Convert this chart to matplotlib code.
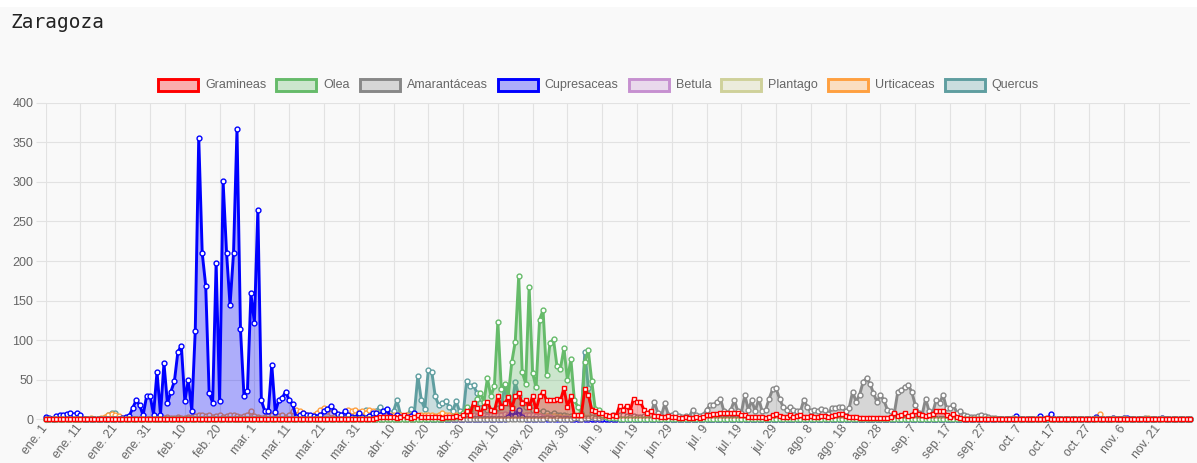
import matplotlib
matplotlib.use('Agg')
import matplotlib.pyplot as plt
from matplotlib.patches import Rectangle
import numpy as np

# ---------------- data ----------------
tick_labels = ['ene. 1', 'ene. 11', 'ene. 21', 'ene. 31', 'feb. 10', 'feb. 20', 'mar. 1',
               'mar. 11', 'mar. 21', 'mar. 31', 'abr. 10', 'abr. 20', 'abr. 30', 'may. 10',
               'may. 20', 'may. 30', 'jun. 9', 'jun. 19', 'jun. 29', 'jul. 9', 'jul. 19',
               'jul. 29', 'ago. 8', 'ago. 18', 'ago. 28', 'sep. 7', 'sep. 17', 'sep. 27',
               'oct. 7', 'oct. 17', 'oct. 27', 'nov. 6', 'nov. 21']

series_names = ['Gramineas', 'Olea', 'Amarantáceas', 'Cupresaceas', 'Betula',
                'Plantago', 'Urticaceas', 'Quercus']

gramineas = [
    0, 0, 0, 0, 0, 0, 0, 0, 0, 0,
    0, 0, 0, 0, 0, 0, 0, 0, 0, 0,
    0, 0, 0, 0, 0, 0, 0, 0, 0, 0,
    0, 0, 0, 0, 0, 0, 0, 0, 0, 0,
    0, 0, 0, 0, 0, 0, 0, 0, 0, 0,
    0, 0, 0, 0, 0, 0, 0, 0, 0, 0,
    0, 0, 0, 0, 0, 0, 0, 0, 0, 0,
    0, 0, 0, 0, 0, 0, 0, 0, 0, 0,
    0, 0, 0, 0, 0, 0, 0, 0, 0, 1,
    0, 1, 1, 1, 1, 2, 3, 3, 3, 3,
    3, 2, 3, 5, 3, 2, 3, 5, 3, 3,
    3, 3, 3, 3, 2, 3, 3, 3, 4, 3,
    5, 10, 6, 21, 14, 8, 16, 22, 12, 10,
    29, 16, 20, 28, 14, 29, 33, 20, 24, 16,
    29, 12, 29, 35, 24, 25, 24, 26, 24, 39,
    16, 29, 5, 5, 6, 38, 31, 12, 10, 8,
    8, 6, 4, 6, 4, 17, 12, 17, 10, 26,
    22, 22, 12, 8, 11, 4, 4, 3, 3, 4,
    3, 3, 2, 2, 3, 2, 2, 3, 2, 3,
    5, 6, 7, 7, 8, 8, 8, 8, 8, 8,
    6, 5, 3, 3, 3, 3, 3, 2, 3, 5,
    7, 4, 3, 3, 5, 3, 4, 6, 3, 3,
    4, 3, 3, 4, 4, 3, 4, 5, 7, 7,
    4, 3, 3, 3, 2, 2, 2, 2, 2, 2,
    2, 2, 2, 3, 8, 4, 5, 8, 4, 5,
    11, 7, 6, 4, 6, 7, 10, 11, 10, 6,
    3, 7, 3, 2, 1, 1, 0, 0, 1, 0,
    0, 0, 0, 0, 0, 0, 0, 0, 0, 0,
    0, 0, 0, 0, 0, 0, 0, 1, 2, 1,
    0, 0, 0, 0, 0, 0, 0, 0, 0, 0,
    0, 0, 0, 0, 0, 0, 0, 0, 0, 0,
    0, 0, 0, 0, 0, 0, 0, 0, 0, 0,
    0, 0, 0, 0, 0, 0, 0, 0, 0, 0,
]

olea = [
    0, 0, 0, 0, 0, 0, 0, 0, 0, 0,
    0, 0, 0, 0, 0, 0, 0, 0, 0, 0,
    0, 0, 0, 0, 0, 0, 0, 0, 0, 0,
    0, 0, 0, 0, 0, 0, 0, 0, 0, 0,
    0, 0, 0, 0, 0, 0, 0, 0, 0, 0,
    0, 0, 0, 0, 0, 0, 0, 0, 0, 0,
    0, 0, 0, 0, 0, 0, 0, 0, 0, 0,
    0, 0, 0, 0, 0, 0, 0, 0, 0, 0,
    0, 0, 0, 0, 0, 0, 0, 0, 0, 0,
    0, 0, 0, 0, 0, 0, 0, 0, 0, 0,
    0, 0, 0, 0, 0, 0, 0, 0, 0, 0,
    0, 0, 1, 1, 1, 2, 2, 3, 3, 5,
    8, 16, 12, 18, 26, 33, 22, 52, 29, 42,
    123, 38, 45, 30, 72, 98, 181, 60, 45, 167,
    58, 41, 126, 138, 56, 97, 101, 67, 64, 90,
    50, 76, 24, 16, 8, 73, 87, 48, 13, 12,
    5, 3, 2, 2, 2, 1, 1, 1, 1, 1,
    1, 1, 1, 1, 1, 1, 1, 1, 1, 1,
    1, 1, 1, 1, 1, 1, 1, 1, 1, 1,
    1, 1, 1, 1, 1, 1, 1, 1, 1, 1,
    1, 1, 1, 1, 1, 1, 1, 1, 1, 1,
    1, 1, 1, 1, 1, 1, 1, 1, 1, 1,
    1, 1, 1, 1, 1, 1, 1, 1, 1, 1,
    1, 1, 1, 1, 1, 1, 1, 1, 1, 1,
    1, 1, 1, 1, 1, 1, 1, 1, 1, 1,
    1, 1, 1, 1, 1, 1, 1, 1, 1, 1,
    1, 1, 1, 1, 0, 0, 0, 0, 0, 0,
    0, 0, 0, 0, 0, 0, 0, 0, 0, 0,
    0, 0, 0, 0, 0, 0, 0, 0, 0, 0,
    0, 0, 0, 0, 0, 0, 0, 0, 0, 0,
    0, 0, 0, 0, 0, 0, 0, 0, 0, 0,
    0, 0, 0, 0, 0, 0, 0, 0, 0, 0,
    0, 0, 0, 0, 0, 0, 0, 0, 0, 0,
]

amarantaceas = [
    0, 0, 0, 0, 0, 0, 0, 0, 0, 0,
    0, 0, 0, 0, 0, 0, 0, 0, 0, 0,
    0, 0, 0, 0, 0, 0, 0, 0, 0, 0,
    0, 0, 0, 0, 0, 0, 0, 0, 0, 0,
    0, 0, 0, 0, 0, 0, 0, 0, 0, 0,
    0, 0, 0, 0, 0, 0, 0, 0, 0, 0,
    0, 0, 0, 0, 0, 0, 0, 0, 0, 0,
    0, 0, 0, 0, 0, 0, 0, 0, 0, 0,
    0, 0, 0, 0, 0, 0, 0, 0, 0, 0,
    0, 0, 0, 0, 0, 0, 0, 0, 0, 0,
    0, 0, 0, 0, 0, 0, 0, 0, 0, 0,
    0, 0, 0, 0, 0, 0, 0, 0, 0, 0,
    0, 0, 0, 0, 1, 0, 0, 1, 0, 1,
    0, 1, 0, 1, 1, 0, 1, 1, 0, 1,
    1, 1, 1, 1, 2, 1, 1, 2, 1, 1,
    1, 1, 2, 2, 1, 2, 2, 3, 2, 2,
    3, 4, 3, 5, 4, 6, 5, 4, 3, 4,
    3, 3, 4, 4, 5, 22, 8, 4, 20, 6,
    5, 8, 4, 3, 4, 3, 12, 5, 4, 5,
    12, 18, 18, 22, 26, 10, 8, 12, 24, 10,
    8, 31, 12, 24, 10, 26, 10, 12, 26, 38,
    39, 26, 16, 12, 16, 12, 10, 10, 25, 15,
    10, 12, 10, 13, 12, 7, 14, 14, 16, 15,
    10, 14, 35, 22, 31, 47, 52, 45, 33, 22,
    31, 24, 12, 10, 8, 35, 37, 41, 43, 35,
    18, 8, 6, 26, 10, 8, 24, 20, 31, 14,
    14, 18, 8, 10, 6, 4, 3, 3, 4, 5,
    4, 3, 2, 2, 1, 1, 1, 1, 2, 1,
    1, 1, 0, 0, 1, 0, 0, 0, 2, 1,
    0, 0, 0, 0, 0, 0, 0, 1, 0, 0,
    0, 0, 2, 1, 0, 0, 0, 2, 0, 0,
    2, 0, 0, 0, 0, 0, 2, 0, 0, 0,
    0, 2, 0, 0, 0, 0, 0, 0, 0, 0,
]

cupresaceas = [
    3, 2, 1, 4, 5, 5, 7, 8, 5, 8,
    5, 1, 1, 1, 1, 1, 1, 1, 1, 1,
    1, 1, 2, 3, 4, 14, 24, 18, 5, 29,
    30, 6, 60, 6, 71, 20, 35, 48, 85, 93,
    23, 50, 11, 112, 356, 210, 169, 33, 21, 198,
    23, 301, 210, 144, 210, 367, 114, 30, 36, 159,
    122, 265, 24, 10, 10, 69, 9, 24, 27, 35,
    24, 19, 3, 5, 8, 6, 5, 4, 3, 5,
    10, 13, 17, 11, 7, 5, 10, 5, 3, 2,
    8, 3, 2, 4, 8, 8, 5, 10, 13, 4,
    2, 5, 3, 2, 3, 4, 8, 3, 2, 1,
    1, 1, 1, 0, 0, 1, 0, 0, 1, 0,
    0, 1, 0, 0, 1, 0, 0, 0, 1, 0,
    0, 1, 0, 3, 10, 4, 12, 3, 1, 0,
    0, 0, 1, 0, 0, 0, 1, 0, 0, 0,
    0, 0, 0, 0, 0, 0, 0, 0, 0, 0,
    0, 0, 0, 1, 0, 0, 0, 0, 0, 0,
    1, 0, 0, 0, 0, 0, 0, 0, 0, 0,
    0, 0, 0, 0, 0, 0, 0, 0, 0, 0,
    0, 0, 0, 0, 0, 0, 0, 0, 0, 0,
    0, 0, 0, 0, 0, 0, 0, 0, 0, 0,
    0, 0, 0, 0, 0, 0, 0, 0, 0, 0,
    0, 0, 0, 0, 0, 0, 0, 0, 0, 0,
    0, 0, 0, 0, 0, 0, 0, 0, 0, 0,
    0, 0, 0, 0, 0, 0, 0, 0, 0, 0,
    0, 0, 0, 0, 0, 0, 0, 0, 0, 0,
    0, 0, 0, 0, 0, 0, 0, 0, 0, 0,
    0, 0, 0, 0, 0, 0, 0, 0, 0, 4,
    0, 0, 0, 0, 0, 0, 4, 0, 0, 7,
    0, 0, 0, 0, 0, 0, 0, 0, 0, 0,
    0, 0, 3, 0, 0, 0, 0, 2, 0, 0,
    2, 2, 0, 0, 0, 0, 0, 0, 0, 0,
    0, 2, 0, 0, 0, 0, 0, 0, 0, 0,
]

betula = [
    0, 0, 0, 0, 0, 0, 0, 0, 0, 0,
    0, 0, 0, 0, 0, 0, 0, 0, 0, 0,
    0, 0, 0, 0, 0, 0, 0, 0, 0, 0,
    0, 0, 0, 0, 0, 0, 0, 0, 0, 0,
    0, 0, 0, 0, 0, 0, 0, 0, 0, 0,
    0, 0, 0, 0, 0, 0, 0, 0, 0, 0,
    0, 0, 0, 0, 0, 0, 0, 0, 0, 0,
    0, 0, 0, 0, 0, 0, 0, 0, 0, 0,
    0, 0, 0, 0, 0, 0, 0, 0, 0, 0,
    0, 0, 0, 0, 0, 0, 0, 0, 0, 0,
    0, 0, 1, 0, 1, 1, 0, 1, 1, 1,
    1, 1, 2, 2, 1, 2, 3, 2, 3, 2,
    3, 4, 3, 5, 4, 6, 5, 4, 6, 5,
    6, 5, 7, 6, 8, 7, 6, 5, 6, 5,
    5, 4, 4, 3, 3, 3, 2, 2, 2, 2,
    2, 1, 1, 1, 1, 1, 0, 0, 0, 0,
    0, 0, 0, 0, 0, 0, 0, 0, 0, 0,
    0, 0, 0, 0, 0, 0, 0, 0, 0, 0,
    0, 0, 0, 0, 0, 0, 0, 0, 0, 0,
    0, 0, 0, 0, 0, 0, 0, 0, 0, 0,
    0, 0, 0, 0, 0, 0, 0, 0, 0, 0,
    0, 0, 0, 0, 0, 0, 0, 0, 0, 0,
    0, 0, 0, 0, 0, 0, 0, 0, 0, 0,
    0, 0, 0, 0, 0, 0, 0, 0, 0, 0,
    0, 0, 0, 0, 0, 0, 0, 0, 0, 0,
    0, 0, 0, 0, 0, 0, 0, 0, 0, 0,
    0, 0, 0, 0, 0, 0, 0, 0, 0, 0,
    0, 0, 0, 0, 0, 0, 0, 0, 0, 0,
    0, 0, 0, 0, 0, 0, 0, 0, 0, 0,
    0, 0, 0, 0, 0, 0, 0, 0, 0, 0,
    0, 0, 0, 0, 0, 0, 0, 0, 0, 0,
    0, 0, 0, 0, 0, 0, 0, 0, 0, 0,
    0, 0, 0, 0, 0, 0, 0, 0, 0, 0,
]

plantago = [
    0, 0, 0, 0, 0, 0, 0, 0, 0, 0,
    0, 0, 0, 0, 0, 0, 0, 0, 0, 0,
    0, 0, 0, 0, 0, 0, 0, 0, 0, 0,
    0, 0, 0, 0, 0, 0, 0, 0, 0, 0,
    0, 0, 0, 0, 0, 0, 0, 0, 0, 0,
    0, 0, 0, 0, 0, 0, 0, 0, 0, 0,
    0, 0, 0, 0, 0, 0, 0, 0, 0, 0,
    0, 0, 0, 0, 0, 0, 0, 0, 0, 0,
    0, 0, 0, 0, 0, 0, 0, 0, 0, 0,
    0, 0, 0, 0, 0, 0, 0, 0, 0, 0,
    0, 0, 0, 0, 0, 0, 0, 0, 0, 0,
    0, 0, 0, 0, 0, 0, 0, 0, 0, 0,
    0, 1, 1, 1, 2, 1, 2, 2, 1, 2,
    2, 3, 2, 3, 3, 4, 3, 3, 2, 3,
    3, 4, 3, 3, 4, 3, 4, 3, 2, 3,
    3, 2, 3, 2, 2, 3, 3, 2, 2, 2,
    2, 2, 3, 2, 2, 3, 2, 2, 2, 1,
    2, 1, 2, 1, 1, 2, 1, 1, 1, 1,
    1, 1, 1, 1, 1, 1, 1, 0, 1, 0,
    0, 0, 0, 0, 0, 0, 0, 0, 0, 0,
    0, 0, 0, 0, 0, 0, 0, 0, 0, 0,
    0, 0, 0, 0, 0, 0, 0, 0, 0, 0,
    0, 0, 0, 0, 0, 0, 0, 0, 0, 0,
    0, 0, 0, 0, 0, 0, 0, 0, 0, 0,
    0, 0, 0, 0, 0, 0, 0, 0, 0, 0,
    0, 0, 0, 0, 0, 0, 0, 0, 0, 0,
    0, 0, 0, 0, 0, 0, 0, 0, 0, 0,
    0, 0, 0, 0, 0, 0, 0, 0, 0, 0,
    0, 0, 0, 0, 0, 0, 0, 0, 0, 0,
    0, 0, 0, 0, 0, 0, 0, 0, 0, 0,
    0, 0, 0, 0, 0, 0, 0, 0, 0, 0,
    0, 0, 0, 0, 0, 0, 0, 0, 0, 0,
    0, 0, 0, 0, 0, 0, 0, 0, 0, 0,
]

urticaceas = [
    0, 0, 0, 0, 0, 0, 0, 0, 0, 0,
    0, 0, 1, 2, 1, 1, 2, 3, 5, 7,
    6, 4, 2, 1, 1, 1, 1, 1, 1, 1,
    1, 1, 2, 1, 2, 3, 2, 2, 3, 2,
    2, 3, 3, 4, 5, 5, 4, 5, 3, 4,
    5, 3, 4, 5, 6, 4, 3, 4, 5, 10,
    4, 3, 2, 3, 4, 5, 3, 4, 5, 3,
    5, 10, 12, 10, 8, 5, 4, 6, 8, 12,
    14, 10, 8, 10, 6, 5, 8, 12, 10, 12,
    9, 10, 8, 12, 10, 8, 6, 8, 5, 6,
    5, 6, 5, 4, 5, 6, 5, 4, 5, 6,
    6, 5, 4, 6, 8, 6, 5, 4, 5, 4,
    4, 5, 4, 3, 4, 5, 4, 3, 4, 3,
    5, 6, 4, 5, 8, 6, 5, 4, 6, 5,
    4, 5, 4, 3, 4, 3, 4, 3, 3, 2,
    2, 1, 2, 1, 1, 2, 1, 1, 1, 1,
    1, 1, 1, 1, 1, 1, 1, 1, 1, 1,
    1, 1, 1, 1, 1, 1, 1, 1, 1, 1,
    1, 1, 1, 1, 1, 1, 1, 1, 1, 1,
    1, 1, 1, 1, 1, 1, 1, 1, 1, 1,
    1, 1, 1, 1, 1, 1, 1, 1, 1, 1,
    1, 1, 1, 1, 1, 1, 1, 1, 1, 1,
    1, 1, 1, 1, 1, 1, 1, 1, 1, 1,
    1, 1, 1, 1, 1, 1, 1, 1, 1, 1,
    1, 1, 1, 1, 1, 1, 1, 1, 2, 1,
    1, 1, 1, 1, 1, 1, 1, 1, 1, 1,
    1, 1, 1, 1, 1, 1, 1, 0, 0, 0,
    0, 0, 0, 0, 0, 0, 0, 0, 0, 0,
    0, 0, 0, 0, 0, 0, 0, 0, 0, 0,
    0, 0, 0, 0, 0, 0, 0, 0, 0, 0,
    0, 0, 0, 7, 0, 0, 0, 0, 0, 0,
    0, 0, 0, 0, 0, 0, 0, 2, 0, 0,
    0, 0, 0, 0, 0, 0, 0, 0, 0, 0,
]

quercus = [
    0, 0, 0, 0, 0, 0, 0, 0, 0, 0,
    0, 0, 0, 0, 0, 0, 0, 2, 6, 8,
    8, 3, 0, 0, 0, 0, 0, 0, 0, 0,
    0, 0, 0, 0, 0, 0, 0, 0, 0, 0,
    0, 0, 0, 0, 0, 0, 0, 0, 0, 0,
    0, 0, 0, 0, 0, 0, 0, 0, 0, 0,
    0, 0, 0, 0, 0, 0, 0, 0, 0, 0,
    0, 0, 0, 0, 0, 0, 0, 0, 0, 0,
    0, 0, 0, 0, 0, 0, 0, 0, 1, 2,
    3, 5, 12, 8, 6, 10, 16, 8, 5, 8,
    10, 24, 6, 4, 5, 13, 8, 55, 24, 13,
    62, 60, 29, 18, 20, 23, 16, 10, 23, 10,
    5, 48, 42, 43, 33, 20, 15, 12, 10, 12,
    14, 15, 43, 20, 15, 47, 30, 20, 15, 18,
    12, 10, 8, 10, 8, 6, 8, 6, 5, 5,
    4, 4, 3, 3, 5, 85, 40, 8, 3, 2,
    1, 1, 0, 0, 0, 0, 0, 0, 0, 0,
    0, 0, 0, 0, 0, 0, 0, 0, 0, 0,
    0, 0, 0, 0, 0, 0, 0, 0, 0, 0,
    0, 0, 0, 0, 0, 0, 0, 0, 0, 0,
    0, 0, 0, 0, 0, 0, 0, 0, 0, 0,
    0, 0, 0, 0, 0, 0, 0, 0, 0, 0,
    0, 0, 0, 0, 0, 0, 0, 0, 0, 0,
    0, 0, 0, 0, 0, 0, 0, 0, 0, 0,
    0, 0, 0, 0, 0, 0, 0, 0, 0, 0,
    0, 0, 0, 0, 0, 0, 0, 0, 0, 0,
    0, 0, 0, 0, 0, 0, 0, 0, 0, 0,
    0, 0, 0, 0, 0, 0, 0, 0, 0, 0,
    0, 0, 0, 0, 0, 0, 0, 0, 0, 0,
    0, 0, 0, 0, 0, 0, 0, 0, 0, 0,
    0, 0, 0, 0, 0, 0, 0, 0, 0, 0,
    0, 0, 0, 0, 0, 0, 0, 0, 0, 0,
    0, 0, 0, 0, 0, 0, 0, 0, 0, 0,
]

series_values = [gramineas, olea, amarantaceas, cupresaceas, betula,
                 plantago, urticaceas, quercus]

# ---------------- style ----------------
line_colors = ['#ff0000', '#66bb6a', '#888888', '#0000ff', '#c690d0',
               '#cfd19a', '#ffa040', '#5f9ea0']
markers = ['s', 'o', 'o', 'o', 'o', 'o', 'o', 'o']
FILL_ALPHA = 0.3
BG = '#f9f9f9'
GRID = '#e2e2e2'
TXT = '#666666'
FS = 9.0

plt.rcParams['font.family'] = ['Liberation Sans', 'DejaVu Sans']

W, H = 1197, 463
fig = plt.figure(figsize=(W / 100, H / 100), dpi=100)
fig.patch.set_facecolor(BG)
fig.add_artist(Rectangle((0, 1 - 7 / H), 1, 7 / H, transform=fig.transFigure,
                         facecolor='white', edgecolor='none', zorder=0))

L, R, T, B = 45.7, 1190, 102.7, 419.3
ax = fig.add_axes([L / W, 1 - B / H, (R - L) / W, (B - T) / H])
ax.set_facecolor(BG)

n = len(gramineas)
for s in series_values:
    if len(s) != n:
        raise ValueError('length mismatch')
x = np.arange(n)

for k in reversed(range(len(series_names))):
    y = np.array(series_values[k], dtype=float)
    c = line_colors[k]
    z = 10 + (len(series_names) - k) * 2
    ax.fill_between(x, 0, y, facecolor=c, alpha=FILL_ALPHA, lw=0, zorder=z)
    ax.plot(x, y, color=c, lw=2.1, marker=markers[k],
            ms=3.2 if markers[k] == 's' else 3.5,
            mfc='white', mec=c, mew=1.0, zorder=z + 1, clip_on=False,
            solid_joinstyle='round')

ax.set_xlim(0, n - 1)
ax.set_ylim(0, 400)
ax.set_yticks(np.arange(0, 401, 50))
ax.set_xticks(np.arange(0, n, 10))
ax.set_xticklabels(tick_labels, rotation=52, ha='right', va='center',
                   rotation_mode='anchor')
ax.grid(True, color=GRID, lw=0.8)
ax.set_axisbelow(True)
for sp in ax.spines.values():
    sp.set_visible(False)
ax.tick_params(axis='y', length=7.5, width=0.8, color=GRID, labelcolor=TXT,
               labelsize=FS, pad=1.5)
ax.tick_params(axis='x', length=3, width=0.8, color=GRID, labelcolor=TXT,
               labelsize=8.8, pad=2)

# title
fig.text(10 / W, 1 - 23 / H, 'Zaragoza', family='DejaVu Sans Mono', fontsize=14,
         color='#222222', ha='left', va='center')

# legend (Chart.js style, centered)
renderer = fig.canvas.get_renderer()
box_w, box_h, gap, pad = 40, 12, 7, 10
texts = []
widths = []
for name in series_names:
    t = fig.text(0, 0, name, fontsize=FS, color=TXT, va='center', ha='left')
    bb = t.get_window_extent(renderer=renderer)
    texts.append(t)
    widths.append(bb.width)
total = sum(box_w + gap + w for w in widths) + pad * (len(widths) - 1)
xc = (W - total) / 2
yc = 85
for k, name in enumerate(series_names):
    c = line_colors[k]
    fig.add_artist(Rectangle((xc / W, 1 - (yc + box_h / 2) / H), box_w / W, box_h / H,
                             transform=fig.transFigure, facecolor=c, alpha=FILL_ALPHA,
                             edgecolor='none'))
    fig.add_artist(Rectangle((xc / W, 1 - (yc + box_h / 2) / H), box_w / W, box_h / H,
                             transform=fig.transFigure, facecolor='none',
                             edgecolor=c, lw=2.1))
    texts[k].set_position(((xc + box_w + gap) / W, 1 - yc / H))
    xc += box_w + gap + widths[k] + pad

fig.savefig('out.png', dpi=100, facecolor=fig.get_facecolor())
